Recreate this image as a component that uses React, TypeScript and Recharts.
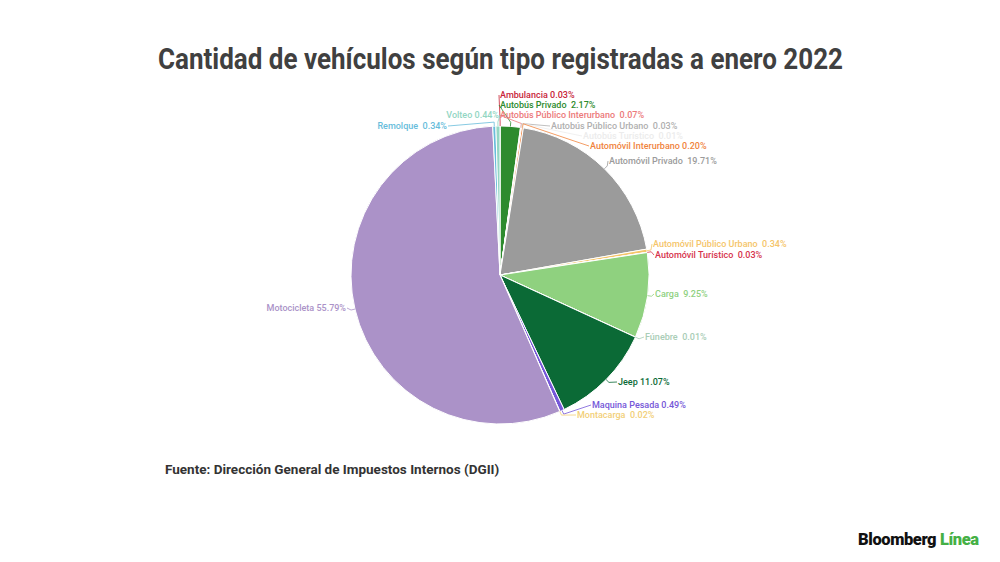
import React from 'react';
import { PieChart, Pie, Cell } from 'recharts';

const CATEGORIES = [
  'Ambulancia', 'Autobús Privado', 'Autobús Público Interurbano', 'Autobús Público Urbano',
  'Autobús Turístico', 'Automóvil Interurbano', 'Automóvil Privado', 'Automóvil Público Urbano',
  'Automóvil Turístico', 'Carga', 'Fúnebre', 'Jeep', 'Maquina Pesada', 'Montacarga',
  'Motocicleta', 'Remolque', 'Volteo',
];
const SHARES = [0.03, 2.17, 0.07, 0.03, 0.01, 0.2, 19.71, 0.34, 0.03, 9.25, 0.01, 11.07, 0.49, 0.02, 55.79, 0.34, 0.44];
const LABEL_TEXT = [
  'Ambulancia 0.03%', 'Autobús Privado  2.17%', 'Autobús Público Interurbano  0.07%', 'Autobús Público Urbano  0.03%',
  'Autobús Turístico  0.01%', 'Automóvil Interurbano 0.20%', 'Automóvil Privado  19.71%', 'Automóvil Público Urbano  0.34%',
  'Automóvil Turístico  0.03%', 'Carga  9.25%', 'Fúnebre  0.01%', 'Jeep 11.07%', 'Maquina Pesada 0.49%', 'Montacarga  0.02%',
  'Motocicleta 55.79%', 'Remolque  0.34%', 'Volteo 0.44%',
];
const COLORS = [
  '#c8253a', '#2e8b2e', '#ec7a7a', '#b0b0b0', '#ececec', '#f0843e', '#9b9b9b', '#f5c56a',
  '#d6334c', '#8fd17f', '#a9cdb6', '#0b6a36', '#7658d8', '#f2cf78', '#ab92c8', '#68bddb', '#93d6c3',
];

// where each label sits: [x, y, side]
const LABEL_SPOTS: [number, number, 'start' | 'end'][] = [
  [500, 95, 'start'], [500, 105, 'start'], [500, 115, 'start'], [551, 126, 'start'],
  [583, 136, 'start'], [590, 146, 'start'], [609, 161, 'start'], [653, 244, 'start'],
  [655, 255, 'start'], [655, 294, 'start'], [645, 337, 'start'], [618, 382, 'start'],
  [592, 405, 'start'], [577, 415, 'start'], [346, 308, 'end'], [447, 126, 'end'], [499, 115, 'end'],
];

const data = CATEGORIES.map((name, i) => ({ name, value: SHARES[i] }));
const RADIAN = Math.PI / 180;

if (typeof document !== 'undefined') document.body.style.margin = '0';

const renderLabel = (props: any) => {
  const { cx, cy, midAngle, outerRadius, index } = props;
  const [lx, ly, side] = LABEL_SPOTS[index];
  const cos = Math.cos(-midAngle * RADIAN);
  const sin = Math.sin(-midAngle * RADIAN);
  const x0 = cx + outerRadius * cos;
  const y0 = cy + outerRadius * sin;
  const x1 = cx + (outerRadius + 4) * cos;
  const y1 = cy + (outerRadius + 4) * sin;
  const ex = side === 'start' ? lx - 1 : lx + 1;
  const color = COLORS[index];
  return (
    <g key={`lbl-${index}`}>
      <polyline
        points={`${x0},${y0} ${x1},${y1} ${ex},${ly}`}
        fill="none"
        stroke={color}
        strokeWidth={0.8}
      />
      <text
        x={lx}
        y={ly}
        textAnchor={side}
        dominantBaseline="central"
        fill={color}
        fontSize={9}
        fontWeight={500}
        fontFamily="Roboto"
        style={{ whiteSpace: 'pre' }}
      >
        {LABEL_TEXT[index]}
      </text>
    </g>
  );
};

export default function App() {
  return (
    <div style={{ position: 'relative', width: 1000, height: 562, background: '#fff', fontFamily: 'Roboto' }}>
      <svg width={1000} height={90} style={{ position: 'absolute', left: 0, top: 0 }}>
        <text
          x={158}
          y={69}
          textLength={685}
          lengthAdjust="spacingAndGlyphs"
          fontFamily="Roboto"
          fontWeight={700}
          fontSize={29}
          fill="#404040"
        >
          Cantidad de vehículos según tipo registradas a enero 2022
        </text>
      </svg>
      <div style={{ position: 'absolute', left: 0, top: 0 }}>
        <PieChart width={1000} height={562} margin={{ top: 0, right: 0, bottom: 0, left: 0 }}>
          <Pie
            data={data}
            dataKey="value"
            nameKey="name"
            cx={500}
            cy={275}
            outerRadius={149}
            startAngle={90}
            endAngle={-270}
            stroke="#ffffff"
            strokeWidth={1}
            label={renderLabel}
            labelLine={false}
            isAnimationActive={false}
          >
            {data.map((entry, index) => (
              <Cell key={`cell-${index}`} fill={COLORS[index]} />
            ))}
          </Pie>
        </PieChart>
      </div>
      <div style={{ position: 'absolute', left: 165, top: 461, fontSize: 13.5, fontWeight: 700, color: '#333' }}>
        Fuente: Dirección General de Impuestos Internos (DGII)
      </div>
      <div style={{ position: 'absolute', left: 858, top: 530, fontSize: 16.5, fontWeight: 900, color: '#111', letterSpacing: -0.4 }}>
        Bloomberg <span style={{ color: '#45b045' }}>Línea</span>
      </div>
    </div>
  );
}
